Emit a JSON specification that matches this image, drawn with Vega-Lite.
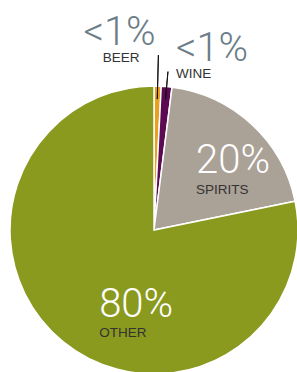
{
  "$schema": "https://vega.github.io/schema/vega-lite/v6.json",
  "width": 308,
  "height": 460,
  "autosize": {"type": "none"},
  "padding": 0,
  "background": "white",
  "config": {"view": {"stroke": null}},
  "data": {"values": [
    {"cat": "BEER", "v": 0.8, "ord": 1, "pct": "<1%"},
    {"cat": "WINE", "v": 1.2, "ord": 2, "pct": "<1%"},
    {"cat": "SPIRITS", "v": 19.8, "ord": 3, "pct": "20%"},
    {"cat": "OTHER", "v": 78.2, "ord": 4, "pct": "80%"}
  ]},
  "encoding": {
    "theta": {"field": "v", "type": "quantitative", "stack": true},
    "order": {"field": "ord", "type": "quantitative"}
  },
  "layer": [
    {
      "mark": {"type": "arc", "radius": 144, "stroke": "white", "strokeWidth": 1.5},
      "encoding": {
        "color": {"field": "cat", "type": "nominal", "legend": null,
          "scale": {"domain": ["BEER", "WINE", "SPIRITS", "OTHER"], "range": ["#e8a01e", "#5c0b52", "#aaa197", "#8a9a1f"]}}
      }
    },
    {
      "mark": {"type": "arc", "radius": 175, "radius2": 131, "padAngle": 1, "fill": "transparent", "stroke": "#111", "strokeWidth": 1},
      "encoding": {"strokeOpacity": {"condition": {"test": "datum.cat === 'BEER'", "value": 1}, "value": 0}}
    },
    {
      "mark": {"type": "arc", "radius": 159, "radius2": 131, "padAngle": 1, "fill": "transparent", "stroke": "#111", "strokeWidth": 1},
      "encoding": {"strokeOpacity": {"condition": {"test": "datum.cat === 'WINE'", "value": 1}, "value": 0}}
    },
    {
      "mark": {"type": "text", "radius": 185, "dx": -3, "align": "right", "baseline": "alphabetic", "font": "Roboto", "fontWeight": 300, "fontSize": 40, "color": "#6b7d88"},
      "encoding": {"text": {"condition": {"test": "datum.cat === 'BEER'", "field": "pct"}, "value": ""}}
    },
    {
      "mark": {"type": "text", "radius": 185, "dx": -56, "dy": 17, "align": "left", "baseline": "alphabetic", "font": "Liberation Sans", "fontSize": 13.5, "color": "#333"},
      "encoding": {"text": {"condition": {"test": "datum.cat === 'BEER'", "field": "cat"}, "value": ""}}
    },
    {
      "mark": {"type": "text", "radius": 170, "dx": 7, "align": "left", "baseline": "alphabetic", "font": "Roboto", "fontWeight": 300, "fontSize": 40, "color": "#6b7d88"},
      "encoding": {"text": {"condition": {"test": "datum.cat === 'WINE'", "field": "pct"}, "value": ""}}
    },
    {
      "mark": {"type": "text", "radius": 170, "dx": 7, "dy": 17, "align": "left", "baseline": "alphabetic", "font": "Liberation Sans", "fontSize": 13.5, "color": "#333"},
      "encoding": {"text": {"condition": {"test": "datum.cat === 'WINE'", "field": "cat"}, "value": ""}}
    },
    {
      "mark": {"type": "text", "radius": 78, "dx": -11, "align": "left", "baseline": "alphabetic", "font": "Roboto", "fontWeight": 300, "fontSize": 40, "color": "white"},
      "encoding": {"text": {"condition": {"test": "datum.cat === 'SPIRITS'", "field": "pct"}, "value": ""}}
    },
    {
      "mark": {"type": "text", "radius": 78, "dx": -11, "dy": 21, "align": "left", "baseline": "alphabetic", "font": "Liberation Sans", "fontSize": 13.5, "color": "#333"},
      "encoding": {"text": {"condition": {"test": "datum.cat === 'SPIRITS'", "field": "cat"}, "value": ""}}
    },
    {
      "mark": {"type": "text", "radius": 112, "dx": 16, "align": "left", "baseline": "alphabetic", "font": "Roboto", "fontWeight": 300, "fontSize": 40, "color": "white"},
      "encoding": {"text": {"condition": {"test": "datum.cat === 'OTHER'", "field": "pct"}, "value": ""}}
    },
    {
      "mark": {"type": "text", "radius": 112, "dx": 16, "dy": 20, "align": "left", "baseline": "alphabetic", "font": "Liberation Sans", "fontSize": 13.5, "color": "#333"},
      "encoding": {"text": {"condition": {"test": "datum.cat === 'OTHER'", "field": "cat"}, "value": ""}}
    }
  ]
}
